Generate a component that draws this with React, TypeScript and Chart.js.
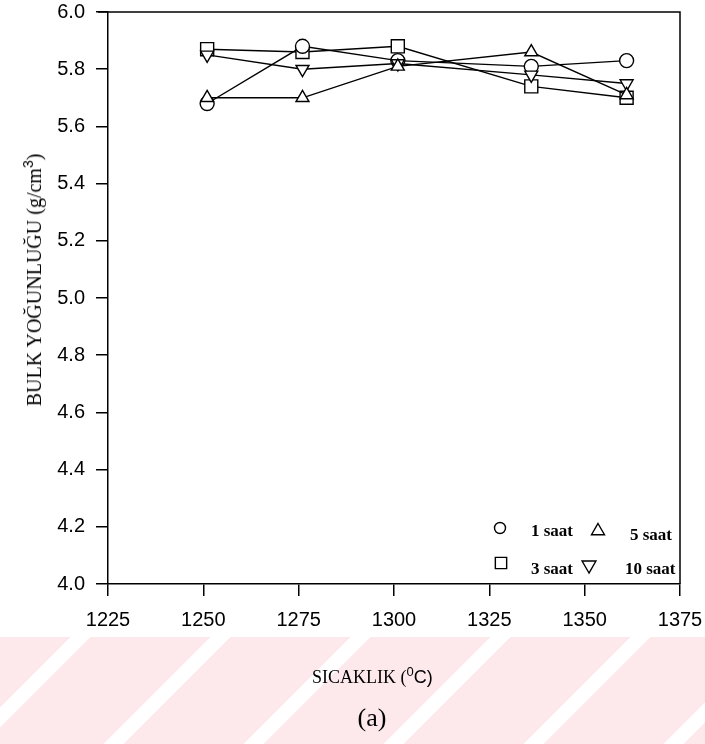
import React, { useEffect, useRef } from "react";
import { Chart, registerables } from "chart.js";
import { drawPoint } from "chart.js/helpers";

Chart.register(...registerables);

// ---- data ----
const temperatures = [1251, 1276, 1301, 1336, 1361];
const saat1 = [5.68, 5.88, 5.83, 5.81, 5.83];
const saat3 = [5.87, 5.86, 5.88, 5.74, 5.7];
const saat5 = [5.7, 5.7, 5.81, 5.86, 5.71];
const saat10 = [5.85, 5.8, 5.82, 5.78, 5.75];
const seriesLabels = ["1 saat", "3 saat", "5 saat", "10 saat"];
const xMin = 1225;
const xMax = 1375;
const xStep = 25;
const yMin = 4.0;
const yMax = 6.0;
const yStep = 0.2;

const toPoints = (ys: number[]) => temperatures.map((x, i) => ({ x, y: ys[i] }));

const TICK_FONT = { family: "'Liberation Sans', Arial, sans-serif", size: 20 };

const framePlugin = {
  id: "frame",
  afterDraw(chart: any) {
    const { ctx, chartArea } = chart;
    ctx.save();
    ctx.strokeStyle = "#000";
    ctx.lineWidth = 1.5;
    ctx.beginPath();
    ctx.moveTo(chartArea.left - 10, chartArea.top);
    ctx.lineTo(chartArea.right, chartArea.top);
    ctx.lineTo(chartArea.right, chartArea.bottom);
    ctx.stroke();
    ctx.restore();
  },
};

const legendPlugin = {
  id: "cornerLegend",
  afterDraw(chart: any) {
    const ctx = chart.ctx;
    const items = [
      { label: seriesLabels[0], style: "circle", rot: 0, r: 5.5, sx: 500, sy: 528, tx: 531, ty: 536 },
      { label: seriesLabels[2], style: "triangle", rot: 0, r: 7.5, sx: 598, sy: 531, tx: 630, ty: 540 },
      { label: seriesLabels[1], style: "rect", rot: 0, r: 8, sx: 501, sy: 563, tx: 531, ty: 574 },
      { label: seriesLabels[3], style: "triangle", rot: 180, r: 8, sx: 589, sy: 565, tx: 625, ty: 574 },
    ];
    ctx.save();
    ctx.font = "bold 17px 'Liberation Serif', 'Times New Roman', serif";
    ctx.textBaseline = "alphabetic";
    ctx.textAlign = "left";
    for (const it of items) {
      ctx.fillStyle = "#fff";
      ctx.strokeStyle = "#000";
      ctx.lineWidth = 1.4;
      drawPoint(ctx, { pointStyle: it.style, rotation: it.rot, radius: it.r, borderWidth: 1.4 }, it.sx, it.sy);
      ctx.fillStyle = "#000";
      ctx.fillText(it.label, it.tx, it.ty);
    }
    ctx.restore();
  },
};

export default function App() {
  const canvasRef = useRef<HTMLCanvasElement | null>(null);

  useEffect(() => {
    const canvas = canvasRef.current;
    if (!canvas) return;
    const common = {
      borderColor: "#000",
      borderWidth: 1.4,
      pointBorderColor: "#000",
      pointBackgroundColor: "#fff",
      pointBorderWidth: 1.4,
      fill: false,
      tension: 0,
    };
    const chart = new Chart(canvas, {
      type: "line",
      data: {
        datasets: [
          { ...common, label: seriesLabels[2], data: toPoints(saat5), pointStyle: "triangle", pointRadius: 7.5 },
          { ...common, label: seriesLabels[3], data: toPoints(saat10), pointStyle: "triangle", pointRotation: 180, pointRadius: 7.5 },
          { ...common, label: seriesLabels[0], data: toPoints(saat1), pointStyle: "circle", pointRadius: 7 },
          { ...common, label: seriesLabels[1], data: toPoints(saat3), pointStyle: "rect", pointRadius: 9.2 },
        ],
      },
      options: {
        animation: false,
        responsive: false,
        devicePixelRatio: 1,
        layout: { padding: { left: 0, top: 12, right: 25, bottom: 0 } },
        plugins: { legend: { display: false }, tooltip: { enabled: false } },
        scales: {
          x: {
            type: "linear",
            min: xMin,
            max: xMax,
            afterFit: (s: any) => {
              s.height = 160;
              s.paddingLeft = 0;
              s.paddingRight = 0;
            },
            ticks: {
              stepSize: xStep,
              color: "#000",
              font: TICK_FONT,
              padding: 12,
              maxRotation: 0,
              callback: (v: any) => String(v),
            },
            grid: { drawOnChartArea: false, drawTicks: true, tickLength: 12, color: "#000", tickColor: "#000", lineWidth: 1.5 },
            border: { display: true, color: "#000", width: 1.5 },
          },
          y: {
            type: "linear",
            min: yMin,
            max: yMax,
            afterFit: (s: any) => {
              s.width = 108;
              s.paddingTop = 0;
              s.paddingBottom = 0;
            },
            ticks: {
              stepSize: yStep,
              color: "#000",
              font: TICK_FONT,
              padding: 11,
              callback: (v: any) => Number(v).toFixed(1),
            },
            grid: { drawOnChartArea: false, drawTicks: true, tickLength: 12, color: "#000", tickColor: "#000", lineWidth: 1.5 },
            border: { display: true, color: "#000", width: 1.5 },
          },
        },
      },
      plugins: [framePlugin, legendPlugin],
    });
    return () => chart.destroy();
  }, []);

  const serif = "'Liberation Serif', 'Times New Roman', serif";
  const sans = "'Liberation Sans', Arial, sans-serif";

  return (
    <div style={{ position: "fixed", left: 0, top: 0, width: 705, height: 744, overflow: "hidden", background: "#fff" }}>
      <div
        style={{
          position: "absolute",
          left: 0,
          top: 637,
          width: 705,
          height: 107,
          background:
            "repeating-linear-gradient(135deg, #fde8ec 0px, #fde8ec 50px, #ffffff 50px, #ffffff 64px, #fde8ec 64px, #fde8ec 99px)",
        }}
      />
      <canvas ref={canvasRef} width={705} height={744} style={{ position: "absolute", left: 0, top: 0, display: "block" }} />
      <div
        style={{
          position: "absolute",
          left: 34,
          top: 280,
          transform: "translate(-50%, -50%) rotate(-90deg)",
          whiteSpace: "nowrap",
          fontFamily: serif,
          fontSize: 20,
          lineHeight: "20px",
          color: "#000",
        }}
      >
        BULK YOĞUNLUĞU (g/cm<sup style={{ fontFamily: sans, fontSize: 14, verticalAlign: "8px", lineHeight: 0 }}>3</sup>)
      </div>
      <div
        style={{
          position: "absolute",
          left: 312,
          top: 668,
          whiteSpace: "nowrap",
          fontFamily: serif,
          fontSize: 18,
          lineHeight: "18px",
          color: "#000",
        }}
      >
        SICAKLIK (
        <span style={{ fontFamily: sans }}>
          <sup style={{ fontSize: 13, verticalAlign: "7px", lineHeight: 0 }}>0</sup>C)
        </span>
      </div>
      <div
        style={{
          position: "absolute",
          left: 372,
          top: 705,
          transform: "translateX(-50%)",
          whiteSpace: "nowrap",
          fontFamily: serif,
          fontSize: 26,
          lineHeight: "26px",
          color: "#000",
        }}
      >
        (a)
      </div>
    </div>
  );
}
